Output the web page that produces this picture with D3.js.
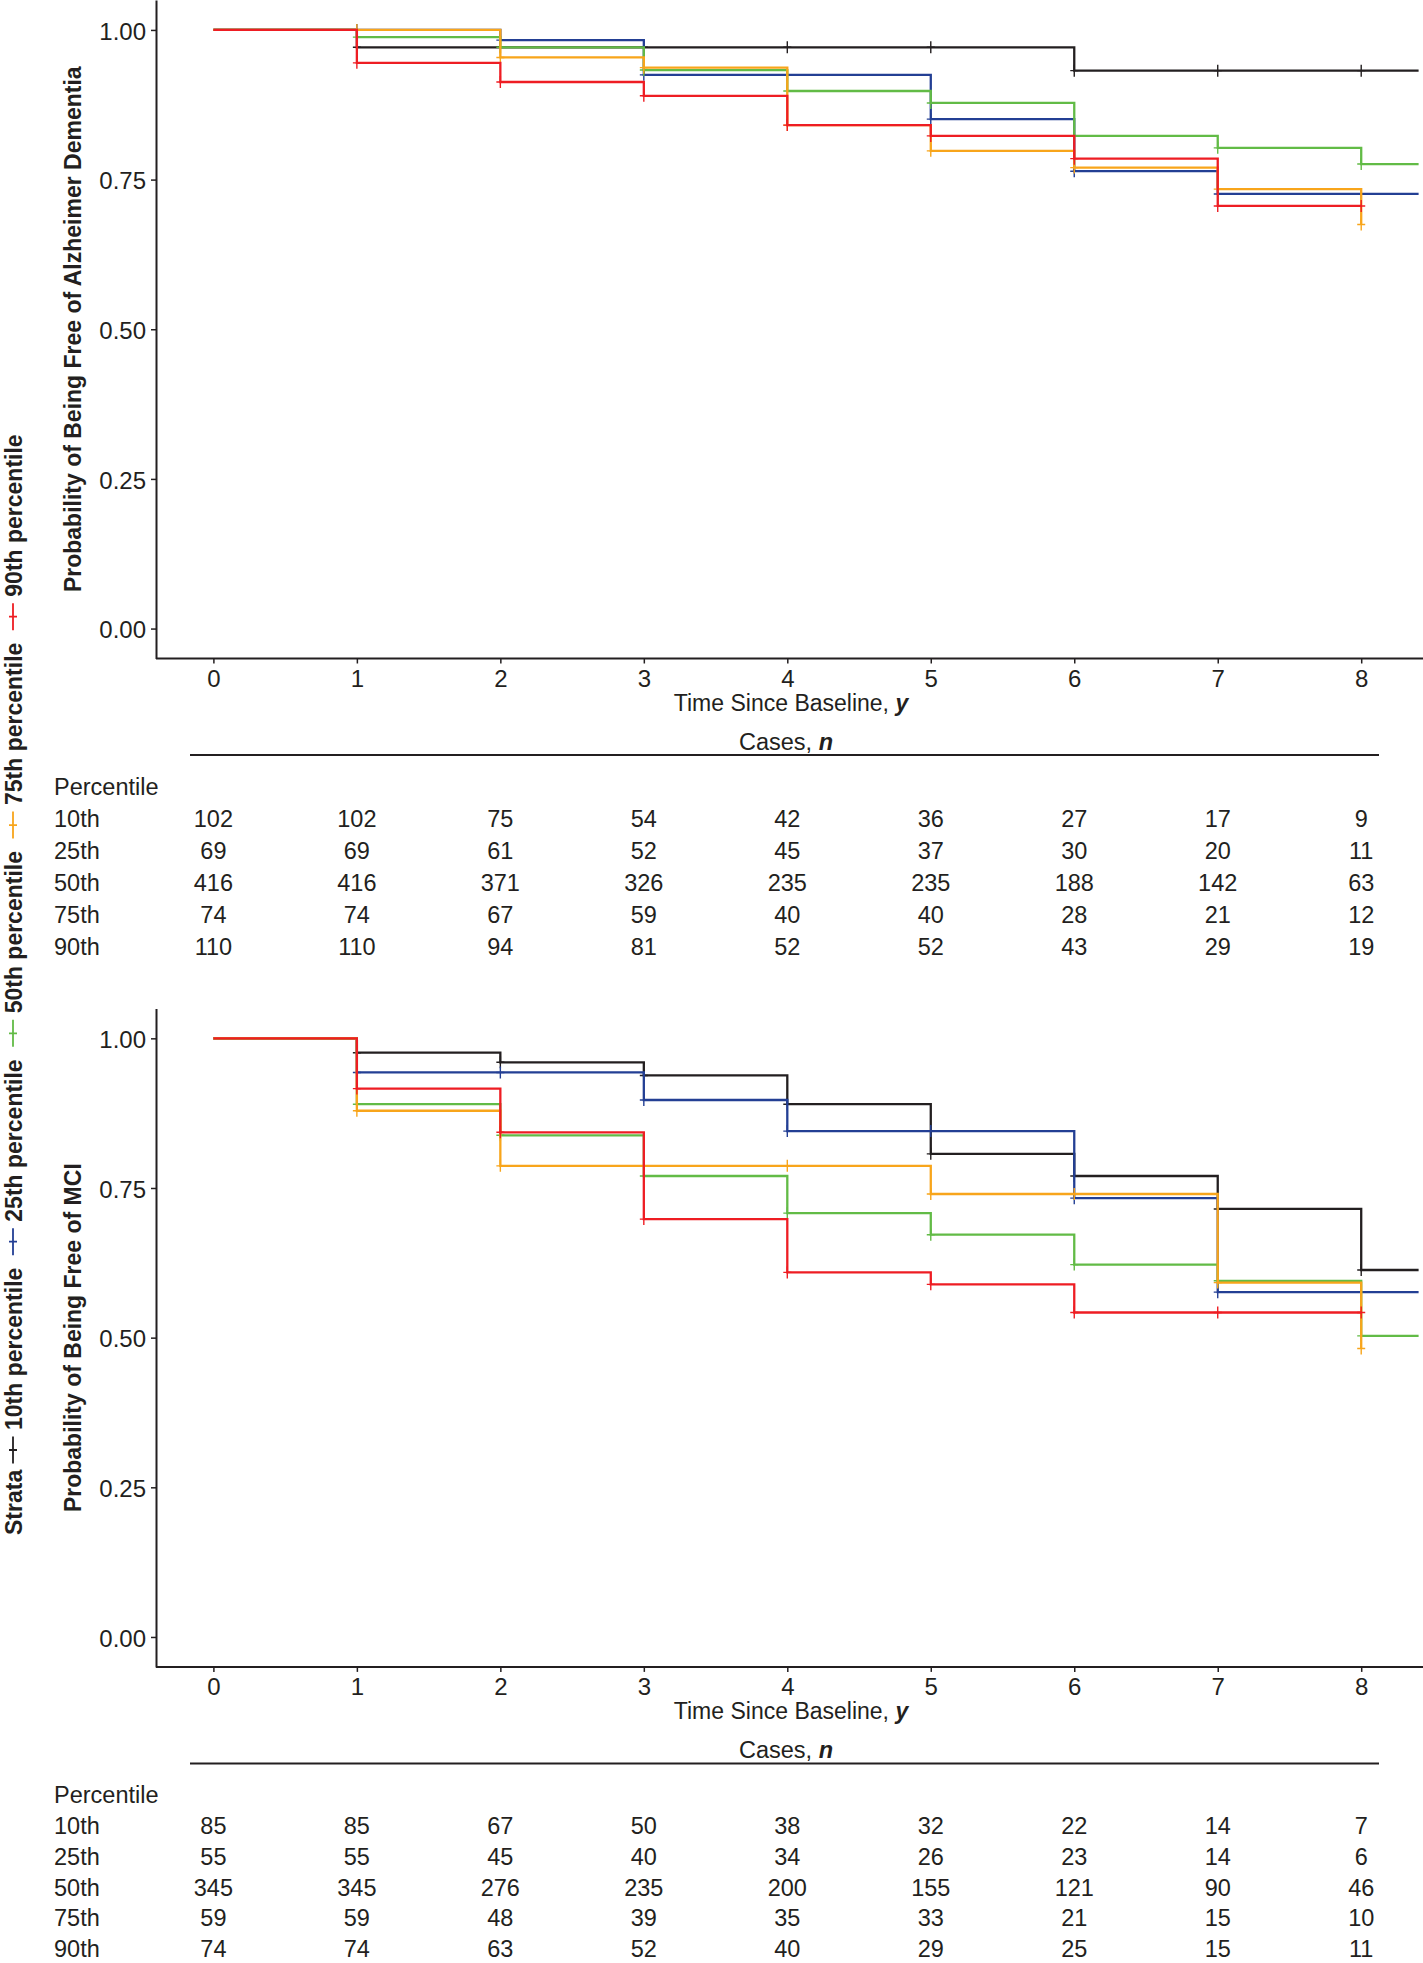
<!DOCTYPE html>
<html><head><meta charset="utf-8">
<script src="https://cdn.jsdelivr.net/npm/d3@7"></script>
<style>
html,body{margin:0;padding:0;background:#fff;}
svg{display:block;}
text{font-family:"Liberation Sans",Arial,sans-serif;fill:#231f20;}
</style></head><body>
<script>
// ---------- data ----------
const strata = ["10th percentile","25th percentile","50th percentile","75th percentile","90th percentile"];
const rowLabels = ["10th","25th","50th","75th","90th"];
const strataColors = ["#231f20","#233f94","#62bb46","#f8a51b","#ee1d23"];
const times = [0,1,2,3,4,5,6,7,8];
const xTicks = [0,1,2,3,4,5,6,7,8];
const yTicks = [0,0.25,0.5,0.75,1];

// Panel A: free of Alzheimer dementia (survival after each yearly step)
const adSurv10 = [1,0.971,0.971,0.971,0.971,0.971,0.932,0.932,0.932];
const adSurv25 = [1,1.000,0.983,0.925,0.925,0.851,0.764,0.726,0.726];
const adSurv50 = [1,0.988,0.971,0.933,0.898,0.878,0.823,0.803,0.776];
const adSurv75 = [1,1.000,0.954,0.937,0.841,0.798,0.770,0.734,0.675];
const adSurv90 = [1,0.945,0.913,0.890,0.841,0.823,0.785,0.706,0.706];
const adFollowEnd = [8.4,8.4,8.4,8,8];
const adRisk10 = [102,102,75,54,42,36,27,17,9];
const adRisk25 = [69,69,61,52,45,37,30,20,11];
const adRisk50 = [416,416,371,326,235,235,188,142,63];
const adRisk75 = [74,74,67,59,40,40,28,21,12];
const adRisk90 = [110,110,94,81,52,52,43,29,19];

// Panel B: free of MCI
const mciSurv10 = [1,0.976,0.960,0.938,0.890,0.807,0.770,0.715,0.613];
const mciSurv25 = [1,0.943,0.943,0.897,0.845,0.845,0.733,0.576,0.576];
const mciSurv50 = [1,0.890,0.838,0.770,0.708,0.672,0.622,0.595,0.503];
const mciSurv75 = [1,0.879,0.787,0.787,0.787,0.740,0.740,0.592,0.482];
const mciSurv90 = [1,0.916,0.843,0.698,0.609,0.589,0.542,0.542,0.542];
const mciFollowEnd = [8.4,8.4,8.4,8,8];
const mciRisk10 = [85,85,67,50,38,32,22,14,7];
const mciRisk25 = [55,55,45,40,34,26,23,14,6];
const mciRisk50 = [345,345,276,235,200,155,121,90,46];
const mciRisk75 = [59,59,48,39,35,33,21,15,10];
const mciRisk90 = [74,74,63,52,40,29,25,15,11];

const panels = [
  {title:"Probability of Being Free of Alzheimer Dementia",
   surv:[adSurv10,adSurv25,adSurv50,adSurv75,adSurv90], ends:adFollowEnd,
   risk:[adRisk10,adRisk25,adRisk50,adRisk75,adRisk90], lastRow:954.7},
  {title:"Probability of Being Free of MCI",
   surv:[mciSurv10,mciSurv25,mciSurv50,mciSurv75,mciSurv90], ends:mciFollowEnd,
   risk:[mciRisk10,mciRisk25,mciRisk50,mciRisk75,mciRisk90], lastRow:948.6}
];

// ---------- layout ----------
const W = 1423, H = 1963;
const panelOffset = 1008.4;
const ink = "#231f20";
const svg = d3.select("body").append("svg").attr("width",W).attr("height",H);

const x = d3.scaleLinear().domain([-0.4,8.4]).range([156,1418.6]);
const y = d3.scaleLinear().domain([-0.05,1.05]).range([658.5,0]);
const line = d3.line().x(d=>x(d[0])).y(d=>y(d[1])).curve(d3.curveStepAfter);

panels.forEach((p,pi)=>{
  const g = svg.append("g").attr("transform",`translate(0,${pi*panelOffset})`);

  // axes
  const ya = g.append("g").attr("transform",`translate(${x.range()[0]},0)`)
    .call(d3.axisLeft(y).tickValues(yTicks).tickFormat(d3.format(".2f")).tickSize(5).tickSizeOuter(0).tickPadding(5));
  const xa = g.append("g").attr("transform",`translate(0,${y.range()[0]})`)
    .call(d3.axisBottom(x).tickValues(xTicks).tickFormat(d3.format("d")).tickSize(5).tickSizeOuter(0).tickPadding(6));
  [ya,xa].forEach(a=>{
    a.select(".domain").attr("stroke",ink).attr("stroke-width",2);
    a.selectAll(".tick line").attr("stroke",ink).attr("stroke-width",1.5);
    a.selectAll(".tick text").attr("font-size",24).attr("fill",ink)
      .style("font-family",'"Liberation Sans",Arial,sans-serif');
  });
  ya.selectAll(".tick text").attr("dy","0.38em");
  xa.select(".domain").attr("d",`M${x.range()[0]},0H${W}`);

  // y title
  g.append("text").attr("transform",`translate(81,${(y.range()[0]+y.range()[1])/2}) rotate(-90)`)
    .attr("text-anchor","middle").attr("font-size",23).attr("font-weight","bold").text(p.title);

  // x title
  const xt = g.append("text").attr("x",791).attr("y",711).attr("text-anchor","middle").attr("font-size",23);
  xt.append("tspan").text("Time Since Baseline, ");
  xt.append("tspan").attr("font-weight","bold").attr("font-style","italic").text("y");

  // curves
  p.surv.forEach((s,i)=>{
    const pts = times.map((t,k)=>[t,s[k]]);
    const endT = p.ends[i];
    if (endT > times[times.length-1]) pts.push([endT, s[s.length-1]]);
    g.append("path").attr("d",line(pts)).attr("fill","none")
      .attr("stroke",strataColors[i]).attr("stroke-width",2.3);
    // censor marks
    const cg = g.append("g").attr("stroke",strataColors[i]).attr("stroke-width",1.4);
    times.slice(1).forEach((t,k)=>{
      const cx = x(t), cy = y(s[k+1]);
      cg.append("path").attr("d",`M${cx},${cy-6}V${cy+6}M${cx-4},${cy}H${cx+4}`);
    });
  });

  // risk table
  const ct = g.append("text").attr("x",786).attr("y",750).attr("text-anchor","middle").attr("font-size",23.5);
  ct.append("tspan").text("Cases, ");
  ct.append("tspan").attr("font-weight","bold").attr("font-style","italic").text("n");
  g.append("line").attr("x1",190).attr("x2",1379).attr("y1",755).attr("y2",755)
    .attr("stroke",ink).attr("stroke-width",2);
  const rowY = d3.scaleLinear().domain([0,5]).range([795,p.lastRow]);
  g.append("text").attr("x",54).attr("y",rowY(0)).attr("font-size",23.5).text("Percentile");
  p.risk.forEach((r,i)=>{
    g.append("text").attr("x",54).attr("y",rowY(i+1)).attr("font-size",23.5).text(rowLabels[i]);
    g.selectAll(null).data(r).enter().append("text")
      .attr("x",(d,k)=>x(times[k])).attr("y",rowY(i+1)).attr("text-anchor","middle")
      .attr("font-size",23.5).text(d=>d);
  });
});

// ---------- legend (rotated, left edge) ----------
const keyY = d3.scaleLinear().domain([0,4]).range([1450,616.7]);
const lg = svg.append("g");
lg.append("text").attr("transform",`translate(21.5,1535) rotate(-90)`)
  .attr("font-size",23).attr("font-weight","bold").text("Strata");
strata.forEach((s,i)=>{
  const ky = keyY(i);
  lg.append("path").attr("d",`M13,${ky-13.5}V${ky+13.5}M9,${ky}H17`)
    .attr("stroke",strataColors[i]).attr("stroke-width",1.8).attr("fill","none");
  lg.append("text").attr("transform",`translate(21.5,${ky-20}) rotate(-90)`)
    .attr("font-size",23).attr("font-weight","bold").text(s);
});
</script>
</body></html>
